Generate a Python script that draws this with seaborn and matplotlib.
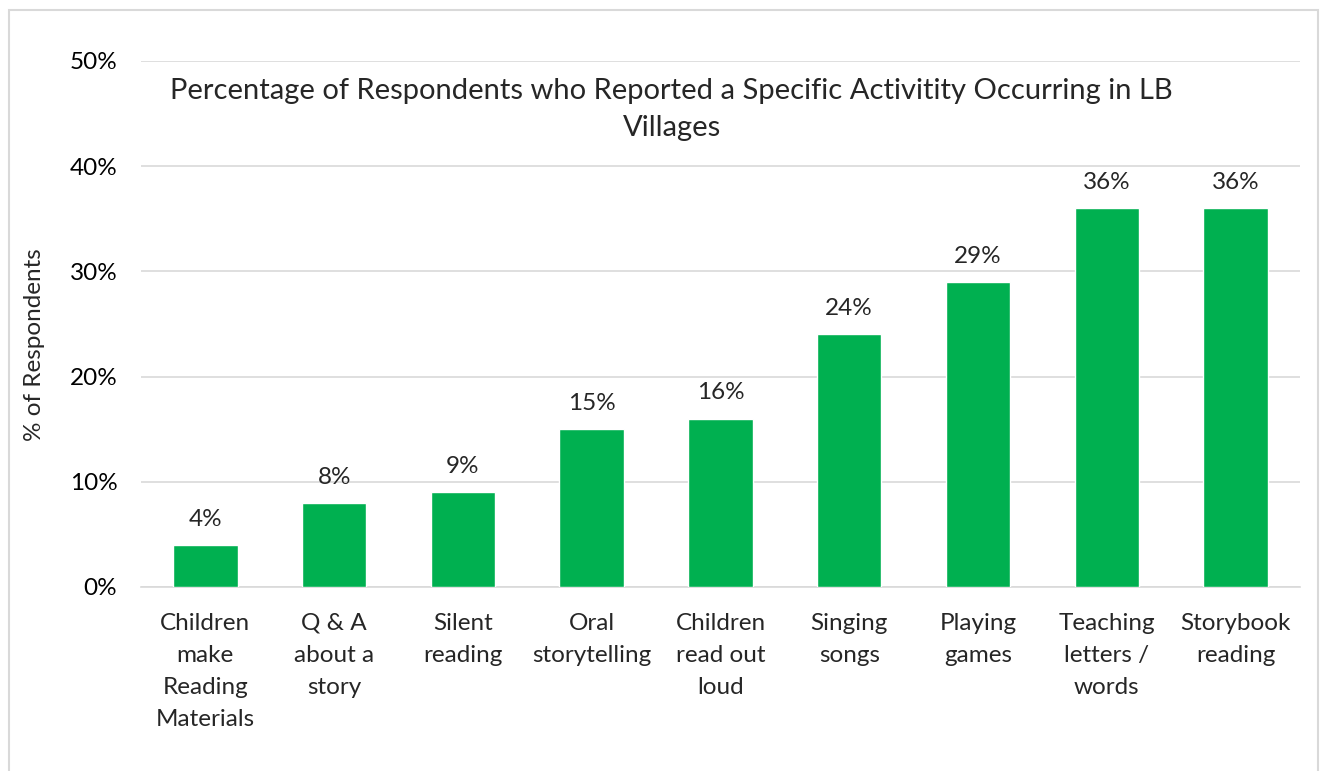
import matplotlib
matplotlib.use("Agg")
import matplotlib.pyplot as plt
import seaborn as sns
import pandas as pd
from matplotlib.patches import Rectangle

activities = [
    "Children\nmake\nReading\nMaterials",
    "Q & A\nabout a\nstory",
    "Silent\nreading",
    "Oral\nstorytelling",
    "Children\nread out\nloud",
    "Singing\nsongs",
    "Playing\ngames",
    "Teaching\nletters /\nwords",
    "Storybook\nreading",
]
percent = [4, 8, 9, 15, 16, 24, 29, 36, 36]
y_ticks = [0, 10, 20, 30, 40, 50]
y_tick_labels = ["0%", "10%", "20%", "30%", "40%", "50%"]
title = "Percentage of Respondents who Reported a Specific Activitity Occurring in LB\nVillages"

sns.set_theme(style="white")
plt.rcParams["font.family"] = ["Lato", "DejaVu Sans"]

df = pd.DataFrame({"activity": activities, "percent": percent})

fig = plt.figure(figsize=(13.25, 7.71), dpi=100)
ax = fig.add_axes([0.1064, 0.2387, 0.8747, 0.6822])

sns.barplot(data=df, x="activity", y="percent", color="#00B050",
            saturation=1, width=0.5, ax=ax, zorder=3)

ax.set_ylim(0, 50)
ax.set_xlim(-0.5, len(activities) - 0.5)
ax.set_yticks(y_ticks)
ax.set_yticklabels(y_tick_labels, fontsize=17.5, color="#000000")
ax.tick_params(axis="both", length=0)
ax.tick_params(axis="y", pad=17)
ax.tick_params(axis="x", pad=18.5)
for lbl in ax.get_xticklabels():
    lbl.set_fontsize(17.5)
    lbl.set_linespacing(1.66)
    lbl.set_verticalalignment("top")

ax.grid(axis="y", color="#D9D9D9", linewidth=1.2, zorder=0)
for side in ["top", "right", "left"]:
    ax.spines[side].set_visible(False)
ax.spines["bottom"].set_color("#D9D9D9")
ax.spines["bottom"].set_linewidth(1.2)

ax.set_xlabel("")
ax.set_ylabel("% of Respondents", fontsize=17.5)
ax.yaxis.set_label_coords(-0.083, 0.46)

for i, v in enumerate(percent):
    ax.annotate(f"{v}%", (i, v), xytext=(0, 11), textcoords="offset points",
                ha="center", va="bottom", fontsize=17.5)

fig.text(0.507, 0.858, title, ha="center", va="center", fontsize=21,
         linespacing=1.55)

fig.patches.append(Rectangle((0.007, -0.05), 0.988, 1.037, transform=fig.transFigure,
                             fill=False, edgecolor="#D9D9D9", linewidth=1.5))

fig.savefig("out.png", dpi=100, facecolor="white")
